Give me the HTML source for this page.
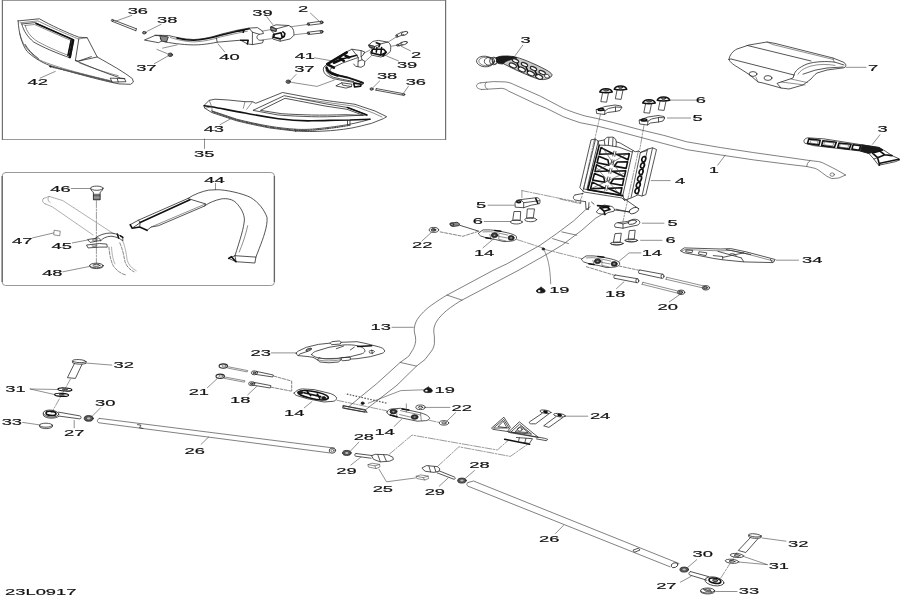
<!DOCTYPE html>
<html><head><meta charset="utf-8"><title>23L0917</title>
<style>
html,body{margin:0;padding:0;background:#fff;}
body{width:900px;height:597px;overflow:hidden;font-family:"Liberation Sans",sans-serif;}
svg{display:block;}
path,ellipse,line,rect{fill:none;stroke:#2a2a2a;stroke-width:.8;stroke-linejoin:round;stroke-linecap:round}
.l{stroke:#444;stroke-width:.6}
.t{stroke:#4a4a4a;stroke-width:.7}
.b{stroke:#666;stroke-width:.9}
.k{stroke:#111;stroke-width:1.6}
.kk{stroke:#111;stroke-width:2.6}
.f{fill:#1a1a1a;stroke:#1a1a1a}
.g{fill:#888;stroke:#222}
.w{fill:#fff}
.d{stroke-dasharray:3 1.5;stroke-width:.6;stroke:#333}
.c{stroke-dasharray:7 1.5 1.5 1.5;stroke-width:.55;stroke:#4a4a4a}
.ph{stroke:#666;stroke-width:.55;stroke-dasharray:1.2 .8}
.ld{stroke:#444;stroke-width:.6}
text{font-family:"Liberation Sans",sans-serif;fill:#111;stroke:#111;stroke-width:.16}
</style></head><body>
<svg width="900" height="597" viewBox="0 0 900 597">
<defs><filter id="id" x="0" y="0" width="100%" height="100%" filterUnits="userSpaceOnUse"><feOffset dx="0" dy="0"/></filter></defs>
<rect x="0" y="0" width="900" height="597" style="fill:#fff;stroke:none"/>
<g filter="url(#id)">
<path d="M2.5 0.5 H445.5 M2.5 139.5 H445.5" style="stroke:#999;stroke-width:1;stroke-linecap:butt"/>
<path d="M2.4 0 V140 M445.6 0 V140" style="stroke:#707070;stroke-width:1.2;stroke-linecap:butt"/>
<rect x="2.2" y="172.5" width="272.2" height="113" rx="3.5" ry="3.5" style="stroke:#999;stroke-width:1"/>
<path d="M2.2 176 V282 M274.4 176 V282" style="stroke:#666;stroke-width:1.3;stroke-linecap:butt"/>
<path class="ld" d="M204.5 139 V148.5"/>
<path class="n" d="M 18.1 20.9 L 39.4 18.8 C 50.3 25.1 67.0 32.7 78.8 37.2 L 87.2 37.7 L 97.2 57.0 C 110.6 64.5 124.0 72.0 132.4 78.7 L 133.4 82.1 L 130.7 84.3 L 119.0 83.9 C 100.6 80.4 70.4 72.0 50.3 65.7 C 40.2 62.0 31.8 56.1 26.8 51.1 C 21.8 43.9 18.8 33.5 18.1 20.9 Z" />
<path class="l" d="M 20.1 22.8 L 37.9 20.9 C 50.3 27.1 67.0 34.3 78.4 39.0" />
<path class="n" d="M 21.8 24.0 L 35.2 22.6 C 48.6 28.5 63.7 35.5 73.7 39.5 L 70.4 58.0 C 57.0 53.3 41.9 46.9 33.5 41.9 C 27.7 36.9 23.5 31.0 21.8 24.0 Z" />
<path class="l" d="M 25.1 25.5 L 34.4 24.5 C 46.9 29.8 62.0 36.9 71.1 40.5 L 68.0 55.3 C 57.0 51.1 43.6 45.2 35.5 40.2 C 30.2 36.0 26.8 31.8 25.1 25.5 Z" />
<path class="kk" d="M 73.1 40.2 L 69.7 57.0" />
<path class="k" d="M 71.1 40.5 L 68.0 55.3" />
<path class="k" d="M 36.0 23.5 C 48.6 28.8 63.7 35.8 72.4 39.5" />
<path class="n" d="M 78.8 38.9 L 75.4 60.6 L 78.8 61.0 L 97.2 57.0 M 78.8 61.0 L 91.3 56.6" />
<path class="l" d="M 78.8 38.9 L 87.2 37.7" />
<path class="n" d="M 75.4 60.6 C 90.5 67.0 107.3 73.7 120.7 78.1 L 124.9 78.7" />
<path class="l" d="M 79.6 63.0 C 93.9 68.7 107.3 73.0 118.2 75.7" />
<path class="l" d="M 19.8 33.5 C 21.8 43.6 27.7 51.1 37.7 59.0 C 50.3 65.7 83.8 74.5 110.6 80.7" />
<path class="n" d="M 25.1 44.4 C 27.7 49.4 32.7 54.4 38.5 58.6" />
<path class="k" d="M 50.3 66.5 L 111.5 81.6" style="stroke-dasharray:1.4 1.2;stroke-width:1.5;stroke:#555"/>
<path class="n" d="M 110.6 78.1 L 124.4 78.7 L 126.0 81.7 L 112.6 82.1 Z M 117.3 78.7 L 118.2 82.1" />
<ellipse class="f" cx="50.3" cy="66.5" rx="0.7" ry="0.5" />
<text x="27.5" y="84.5" font-size="8.30" textLength="20.4" lengthAdjust="spacingAndGlyphs">42</text>
<path class="ld" d="M 40.2 78.1 L 55.3 71.4" />
<path class="n" d="M 113.0 19.8 L 136.4 28.8 M 112.3 21.4 L 135.8 30.7 M 136.4 28.8 L 135.8 30.7" />
<ellipse class="n" cx="112.3" cy="20.4" rx="1.0" ry="1.0" />
<text x="127.7" y="13.8" font-size="8.30" textLength="20.4" lengthAdjust="spacingAndGlyphs">36</text>
<path class="ld" d="M 131.7 15.4 L 115.0 21.4" />
<ellipse class="g" cx="144.3" cy="32.7" rx="1.8" ry="1.3" />
<text x="157.0" y="22.5" font-size="8.30" textLength="20.4" lengthAdjust="spacingAndGlyphs">38</text>
<path class="ld" d="M 161.1 24.3 L 146.8 31.5" />
<ellipse class="g" cx="170.3" cy="54.8" rx="2.3" ry="1.8" />
<ellipse class="w" cx="170.3" cy="54.8" rx="0.8" ry="0.7" />
<text x="136.2" y="71.2" font-size="8.30" textLength="20.4" lengthAdjust="spacingAndGlyphs">37</text>
<path class="ld" d="M 154.4 63.7 L 168.3 55.8" />
<path class="l" d="M 156.9 49.4 L 167.3 53.6 M 162.7 48.1 L 177.0 44.9" />
<path class="n" d="M 144.8 39.9 L 154.9 35.5 L 161.9 35.8 L 160.2 38.9 L 163.9 39.9 L 158.9 42.5 Z" />
<path class="g" d="M 160.2 35.8 L 168.3 36.9 L 166.6 41.9 L 161.9 41.2 Z" />
<path class="n" d="M 154.9 35.2 L 168.6 35.5 C 175.3 37.2 183.7 39.2 193.7 39.5 C 203.8 39.2 213.9 36.5 220.6 34.3 L 237.3 30.2 L 249.1 28.1 L 257.4 27.6 L 262.5 31.0 L 263.5 33.5 L 259.4 34.3 C 256.1 35.5 256.1 38.9 259.4 40.2 L 263.5 40.2 L 262.5 42.9 L 252.4 44.6 L 247.4 43.9 L 240.7 40.2 L 217.2 42.2 C 207.2 44.2 200.4 44.9 193.7 44.9 C 187.0 44.9 175.3 43.9 164.9 41.9" />
<path class="k" d="M 177.0 37.9 C 183.7 39.9 190.4 40.2 193.7 40.2 C 203.8 39.9 213.9 37.2 220.6 35.2 L 237.3 31.2 L 249.1 28.8" />
<path class="l" d="M 170.3 37.5 C 180.3 40.9 190.4 41.9 193.7 41.9 C 203.8 41.5 213.9 39.2 220.6 36.9 L 237.3 33.2 L 247.4 31.2" />
<path class="n" d="M 249.1 28.1 L 252.4 32.2 L 252.4 44.6 M 252.4 32.2 L 259.4 34.3 M 216.4 37.9 L 217.2 42.2" />
<path class="k" d="M 240.7 40.2 L 248.2 40.2 L 247.4 43.9" />
<path class="k" d="M 237.3 31.2 L 244.0 30.2 L 243.2 32.2" />
<text x="219.3" y="60.0" font-size="8.30" textLength="20.4" lengthAdjust="spacingAndGlyphs">40</text>
<path class="ld" d="M 224.7 51.9 L 218.0 43.9" />
<text x="252.3" y="15.6" font-size="8.30" textLength="20.4" lengthAdjust="spacingAndGlyphs">39</text>
<path class="ld" d="M 266.8 16.8 L 272.7 24.5" />
<path class="n" d="M 271.0 26.8 L 276.0 24.8 L 288.6 25.5 C 292.8 26.8 294.0 30.2 294.0 35.2 L 290.3 38.9 L 280.2 41.2 L 272.8 39.0 L 272.2 36.0 L 274.5 34.2 L 271.2 30.5 Z" />
<path class="n" d="M 271.0 26.8 L 276.5 28.8 L 288.6 25.5 M 276.5 28.8 L 276.2 31.5 L 271.2 30.5" />
<path class="g" d="M 271.2 27.1 L 276.2 29.0 L 275.9 31.3 L 271.5 30.3 Z" />
<path class="k" d="M 273.5 34.5 L 281.1 32.7 L 281.9 36.2 L 284.2 36.5 L 284.9 33.5 L 282.9 31.8 M 274.5 34.2 L 273.5 37.2 L 280.2 38.9 L 284.2 36.5" />
<path class="n" d="M 280.2 41.2 L 280.2 38.9" />
<path class="l" d="M 262.1 31.2 L 271.0 29.5 M 262.6 39.9 L 272.5 38.5 M 290.3 26.8 L 307.4 24.5 M 294.0 34.8 L 307.4 33.2" />
<path class="n" d="M 307.9 23.1 L 321.8 21.1 C 323.5 21.1 323.5 23.5 322.1 23.6 L 308.4 25.3 C 306.7 25.3 306.7 23.3 307.9 23.1 Z" />
<path class="n" d="M 307.9 32.2 L 321.8 30.5 C 323.5 30.5 323.5 32.8 322.1 33.0 L 308.4 34.5 C 306.7 34.5 306.7 32.3 307.9 32.2 Z" />
<ellipse class="g" cx="321.5" cy="22.3" rx="1.3" ry="1.2" />
<ellipse class="g" cx="321.5" cy="31.7" rx="1.3" ry="1.2" />
<ellipse class="g" cx="308.7" cy="24.3" rx="0.8" ry="0.8" />
<ellipse class="g" cx="308.7" cy="33.3" rx="0.8" ry="0.8" />
<text x="298.1" y="11.7" font-size="8.30" textLength="10.2" lengthAdjust="spacingAndGlyphs">2</text>
<path class="ld" d="M 310.4 13.1 L 318.8 20.8" />
<text x="294.7" y="58.6" font-size="8.30" textLength="20.4" lengthAdjust="spacingAndGlyphs">41</text>
<path class="ld" d="M 314.6 57.8 L 330.5 60.6" />
<path class="n" d="M 324.2 66.7 L 327.9 63.5 L 338.0 57.0 L 347.3 51.5 L 351.9 49.2 L 361.1 50.6 L 364.8 52.0 L 362.9 55.3 L 361.1 56.6 L 362.0 59.8 L 364.8 61.2 L 364.4 65.4 L 361.1 67.3 L 357.9 66.7 L 358.3 57.5 L 355.6 58.4 L 342.6 63.0 L 330.7 68.6 C 329.7 69.5 330.2 70.9 331.1 71.8 L 337.1 74.6 L 347.3 76.9 L 357.4 80.2 L 363.5 82.4 L 362.9 84.4 L 353.7 82.4 L 342.6 80.5 L 333.4 78.7 L 327.0 75.6 C 324.7 74.1 323.5 71.8 323.3 69.5 Z" />
<path class="kk" d="M 327.2 64.1 L 346.8 52.3" />
<path class="k" d="M 342.6 58.8 L 356.9 55.3" style="stroke-dasharray:1.3 1"/>
<path class="kk" d="M 327.9 64.7 L 333.9 67.6 M 339.7 58.2 L 343.8 60.8 M 333.9 62.7 L 342.2 59.0 M 345.4 55.7 L 349.1 57.5" />
<path class="kk" d="M 326.5 67.6 C 327.0 70.4 328.8 72.1 331.1 73.2 L 337.6 75.4" />
<path class="k" d="M 337.6 75.4 L 347.3 77.6 L 356.9 80.7 L 362.9 83.1" />
<path class="n" d="M 326.1 70.4 C 327.0 73.2 329.7 75.5 333.4 77.3 L 342.6 79.4 L 353.7 81.5" />
<path class="n" d="M 351.9 49.2 L 358.3 57.5 M 361.1 50.6 L 361.1 56.6 M 362.0 59.8 L 358.3 61.2 M 353.7 64.0 L 355.6 66.3 L 357.9 66.7" />
<path class="n" d="M 336.2 85.7 L 341.7 82.8 L 351.9 84.2 L 351.5 86.6 L 346.3 88.0 Z M 341.7 82.8 L 342.6 85.1 L 351.5 86.6" />
<path class="k" d="M 353.7 83.3 L 361.1 84.2 L 360.7 86.1 L 354.6 87.0 Z" />
<text x="294.2" y="72.4" font-size="8.30" textLength="20.4" lengthAdjust="spacingAndGlyphs">37</text>
<path class="ld" d="M 296.1 74.5 L 290.3 80.4" />
<ellipse class="g" cx="288.3" cy="81.7" rx="2.3" ry="1.7" />
<ellipse class="w" cx="288.3" cy="81.7" rx="0.8" ry="0.7" />
<path class="l" d="M 291.6 82.4 L 317.1 86.4 L 334.2 80.1" />
<path class="n" d="M 368.9 44.8 L 372.9 41.4 L 378.3 40.4 L 387.7 42.1 C 390.3 43.0 391.4 46.1 390.3 51.5 L 386.3 55.1 L 380.9 57.0 L 371.6 55.1 L 370.2 52.2 L 372.4 49.5 L 369.6 47.1 Z" />
<path class="n" d="M 368.9 44.8 L 374.9 46.5 L 379.9 44.1 L 387.7 42.1 M 374.9 46.5 L 374.2 48.7 L 369.6 47.1" />
<path class="g" d="M 369.2 45.1 L 374.8 46.7 L 374.2 48.4 L 369.8 46.9 Z" />
<path class="k" d="M 376.3 42.8 L 379.9 44.1 L 378.9 46.8 M 372.9 49.2 L 383.6 49.2 L 386.3 52.2 L 383.0 55.9 M 372.4 49.5 L 371.6 53.0 L 380.9 55.1 L 386.3 52.2 M 376.9 47.5 L 376.3 52.2 M 381.6 47.5 L 380.9 53.5" />
<path class="l" d="M 363.5 53.5 L 370.0 50.0 M 364.3 62.3 L 371.6 55.6 M 387.9 42.2 L 396.8 36.6 M 391.0 46.3 L 396.8 45.2" />
<path class="n" d="M 396.0 35.0 L 402.4 31.8 M 397.0 37.2 L 403.5 34.5" />
<ellipse class="n" cx="404.5" cy="33.4" rx="3.4" ry="1.7" transform="rotate(-22 404.5 33.4)" />
<ellipse class="n" cx="396.8" cy="36.1" rx="0.8" ry="1.1" transform="rotate(-22 396.8 36.1)" />
<ellipse class="g" cx="397.8" cy="45.2" rx="1.3" ry="0.9" />
<path class="n" d="M 398.6 44.1 L 401.9 42.2 M 399.2 46.0 L 402.4 44.7" />
<ellipse class="n" cx="404.0" cy="43.2" rx="3.5" ry="1.5" transform="rotate(-18 404.0 43.2)" />
<text x="411.0" y="58.3" font-size="8.30" textLength="10.2" lengthAdjust="spacingAndGlyphs">2</text>
<path class="ld" d="M 410.4 50.8 L 401.3 46.3" />
<text x="396.9" y="68.4" font-size="8.30" textLength="20.4" lengthAdjust="spacingAndGlyphs">39</text>
<path class="ld" d="M 398.4 60.9 L 387.0 56.2" />
<text x="376.9" y="79.1" font-size="8.30" textLength="20.4" lengthAdjust="spacingAndGlyphs">38</text>
<path class="ld" d="M 379.6 81.0 L 372.9 87.7" />
<ellipse class="g" cx="371.6" cy="89.0" rx="1.6" ry="1.2" />
<text x="405.7" y="84.7" font-size="8.30" textLength="20.4" lengthAdjust="spacingAndGlyphs">36</text>
<path class="ld" d="M 408.4 86.3 L 403.7 93.0" />
<path class="n" d="M 376.3 88.6 L 402.1 93.4 M 375.9 90.2 L 401.7 95.0 M 376.3 88.6 L 375.9 90.2" />
<ellipse class="g" cx="403.5" cy="94.5" rx="1.3" ry="1.1" />
<path class="n" d="M 204.2 105.3 L 209.2 100.3 L 215.0 99.2 L 228.3 100.0 L 245.0 101.7 L 252.5 101.7 L 255.8 103.3 L 282.5 92.5 L 311.7 98.0 L 325.0 100.3 C 336.7 102.0 348.3 103.3 355.0 104.3 L 375.0 111.0 L 386.7 116.7 L 383.3 118.7 L 371.7 123.3 C 361.7 125.8 355.0 127.5 350.0 128.3 C 341.7 129.7 331.7 130.7 325.0 131.0 C 315.0 131.7 303.3 131.7 295.0 131.0 C 286.7 130.0 278.3 129.2 270.0 128.0 C 258.3 125.8 246.7 123.3 236.7 120.8 L 211.7 112.5 L 205.0 108.3 Z" />
<path class="n" d="M 211.7 110.8 L 236.7 119.2 C 246.7 121.7 258.3 124.3 270.0 126.3 C 278.3 127.7 288.3 128.7 295.0 129.2 C 303.3 129.7 311.7 129.3 316.7 128.7 C 328.3 127.7 341.7 125.7 350.0 124.2 C 358.3 122.5 365.0 120.8 370.0 119.2" />
<path class="l" d="M 212.3 111.7 L 236.7 120.0 C 246.7 122.5 258.3 125.0 270.0 127.2 C 278.3 128.3 288.3 129.7 295.0 130.2 C 303.3 130.7 311.7 130.3 316.7 129.7 C 328.3 128.7 341.7 126.7 350.0 125.2" style="stroke-dasharray:1.2 1.2;stroke-width:1.2"/>
<path class="k" d="M 204.2 105.8 L 211.7 106.7 C 225.0 109.2 235.0 111.3 245.0 113.0 C 258.3 115.7 268.3 117.3 278.3 118.7 C 290.0 120.3 301.7 121.0 311.7 120.8 C 325.0 120.7 336.7 120.0 350.0 120.0 L 370.0 119.2" />
<path class="n" d="M 253.3 110.2 L 284.2 95.7 L 325.0 103.7 L 347.5 107.5 L 367.0 115.0 L 345.0 116.0 C 333.3 116.7 321.7 117.0 311.7 116.7 C 301.7 116.3 290.0 116.0 278.3 115.0 Z" />
<path class="n" d="M 260.8 110.2 L 285.0 98.3 L 325.0 106.0 L 347.0 109.3 L 363.3 115.3 L 345.0 114.7 C 333.3 115.0 321.7 115.3 311.7 115.0 C 301.7 114.7 290.0 114.3 281.7 113.7 Z" />
<path class="l" d="M 252.5 101.7 L 246.7 109.3 M 245.0 101.7 L 243.3 108.3 M 209.2 100.3 L 211.7 106.7 M 205.0 108.3 L 211.7 106.7 L 212.3 111.7" />
<path class="l" d="M 300.0 98.7 L 355.0 106.3 L 373.3 113.0 L 382.0 117.0" />
<path class="k" d="M 347.5 107.5 L 367.0 115.0" />
<path class="n" d="M 347.5 120.3 L 347.5 124.7 M 350.0 120.3 L 350.0 124.2 M 295.0 129.2 L 295.8 131.7" />
<text x="203.7" y="132.3" font-size="8.30" textLength="20.4" lengthAdjust="spacingAndGlyphs">43</text>
<path class="ld" d="M 220.0 124.7 L 230.8 118.7" />
<text x="194.0" y="156.8" font-size="8.30" textLength="20.4" lengthAdjust="spacingAndGlyphs">35</text>
<text x="50.3" y="191.9" font-size="8.30" textLength="20.4" lengthAdjust="spacingAndGlyphs">46</text>
<path class="ld" d="M 71.2 188.5 L 90.1 188.5" />
<ellipse class="n" cx="96.8" cy="188.2" rx="6.3" ry="2.1" />
<path class="n" d="M 90.7 188.9 C 91.3 191.0 92.6 191.8 93.4 192.2 L 93.4 199.8 L 100.1 199.8 L 100.1 192.2 C 101.0 191.8 102.2 191.0 102.9 188.9" />
<path class="n" d="M 93.4 194.3 L 100.1 194.3 M 93.4 195.6 L 100.1 195.6 M 93.4 196.8 L 100.1 196.8 M 93.4 198.1 L 100.1 198.1 M 93.4 199.3 L 100.1 199.3" />
<path class="c" d="M 96.4 200.6 L 96.4 263.4" />
<path class="ph" d="M 43.6 198.5 C 41.9 199.8 42.3 202.7 45.3 203.9 M 43.6 198.5 L 49.2 196.4 L 62.8 200.6 L 114.2 234.1 M 45.3 203.9 L 52.4 206.9 L 93.2 235.1" />
<path class="ph" d="M 49.2 196.4 C 47.3 198.1 47.8 201.0 50.3 202.7" />
<path class="ph" d="M 122.6 240.4 C 125.7 248.8 126.5 255.0 127.0 259.2 C 128.2 264.5 132.0 268.6 136.2 270.7" />
<path class="d" d="M 119.8 242.9 C 123.2 250.8 124.0 257.1 124.9 261.3 C 126.5 266.5 129.9 269.7 134.1 271.8" />
<path class="d" d="M 108.9 247.1 C 109.4 252.9 110.2 259.2 113.1 265.5 C 116.3 270.7 121.5 273.9 125.7 274.9" />
<path class="ph" d="M 111.5 247.1 C 111.9 252.9 112.7 259.2 115.2 264.5" />
<path class="n" d="M 95.3 238.3 C 98.5 235.1 104.7 233.0 111.0 233.0 C 117.3 233.7 120.5 235.8 122.8 237.4 L 122.8 240.8 C 119.4 238.3 116.3 236.6 111.0 236.2 C 105.8 236.6 102.7 238.3 100.6 240.8" />
<path class="k" d="M 117.3 234.1 L 118.6 237.9 M 120.5 235.8 L 122.8 237.4" />
<path class="n" d="M 88.0 239.5 L 98.5 237.9 L 101.0 240.4 L 90.5 242.3 Z" />
<path class="n" d="M 86.9 245.0 L 99.5 243.5 L 106.8 244.1 L 107.3 247.1 L 100.1 247.1 L 88.4 247.9 Z" />
<ellipse class="l" cx="94.7" cy="240.0" rx="2.5" ry="0.8" />
<ellipse class="l" cx="94.3" cy="245.8" rx="2.5" ry="0.8" />
<text x="51.6" y="248.9" font-size="8.30" textLength="20.4" lengthAdjust="spacingAndGlyphs">45</text>
<path class="ld" d="M 72.3 242.9 L 87.6 240.0" />
<text x="12.0" y="243.5" font-size="8.30" textLength="20.4" lengthAdjust="spacingAndGlyphs">47</text>
<path class="ld" d="M 32.5 237.9 L 53.4 233.0" />
<path class="l" d="M 54.5 230.3 L 60.3 231.2 L 59.7 235.8 L 54.1 234.9 Z" />
<text x="42.2" y="276.1" font-size="8.30" textLength="20.4" lengthAdjust="spacingAndGlyphs">48</text>
<path class="ld" d="M 62.8 271.8 L 89.2 266.5" />
<ellipse class="n" cx="96.4" cy="265.5" rx="6.7" ry="2.3" />
<ellipse class="n" cx="96.4" cy="265.3" rx="3.6" ry="1.0" />
<path class="n" d="M 89.7 265.5 L 89.7 266.5 C 91.3 269.3 101.4 269.3 103.1 266.5 L 103.1 265.5" />
<text x="204.3" y="183.0" font-size="8.30" textLength="20.4" lengthAdjust="spacingAndGlyphs">44</text>
<path class="ld" d="M 215.5 183.4 L 215.5 189.7" />
<path class="n" d="M 130.2 224.7 L 138.6 220.1 L 187.8 198.5 C 194.1 194.3 202.5 191.2 208.8 190.1 L 217.2 189.7 C 225.5 189.7 242.3 193.3 250.7 197.5 C 259.1 202.7 264.3 210.0 267.0 217.3 C 267.9 225.7 263.2 238.3 259.1 248.8 L 255.9 257.1 L 254.9 263.0 L 236.0 261.7 L 228.7 258.4 L 235.0 255.7 L 255.9 257.1" />
<path class="n" d="M 235.0 255.7 L 236.0 261.7" />
<path class="n" d="M 147.0 230.3 L 151.2 227.0 L 158.5 225.7 L 204.6 206.0 C 208.8 202.7 215.1 200.2 221.4 198.9 C 227.6 198.1 232.9 199.5 236.0 202.7 C 241.2 207.9 244.4 214.2 244.4 219.9 C 244.0 227.8 239.8 240.4 235.0 255.7" />
<path class="k" d="M 130.2 224.7 L 132.1 228.2 L 139.7 227.0 L 147.0 230.3" />
<path class="n" d="M 138.6 220.1 L 140.1 222.8 L 132.1 228.2 M 140.1 222.8 L 139.7 227.0" />
<path class="n" d="M 187.8 198.5 L 205.6 203.9 L 204.6 206.0" />
<path class="k" d="M 140.1 222.4 L 189.9 199.8" />
<path class="l" d="M 151.2 227.0 L 205.6 203.9" />
<path class="l" d="M 247.7 225.7 C 245.4 236.2 242.3 244.6 239.2 252.1" />
<path class="k" d="M 228.7 258.4 L 231.4 256.7 L 236.0 261.7" />
<text x="520.5" y="42.6" font-size="8.30" textLength="10.2" lengthAdjust="spacingAndGlyphs">3</text>
<path class="ld" d="M 522.8 45.1 L 515.3 55.5" />
<ellipse class="n" cx="485.0" cy="61.5" rx="8.5" ry="5.3" transform="rotate(5 485.0 61.5)" />
<ellipse class="l" cx="485.8" cy="61.5" rx="7.0" ry="4.2" transform="rotate(5 485.8 61.5)" />
<ellipse class="n" cx="489.5" cy="61.3" rx="5.2" ry="4.0" />
<ellipse class="n" cx="493.2" cy="61.0" rx="3.6" ry="3.8" />
<ellipse class="n" cx="495.0" cy="61.0" rx="2.8" ry="3.4" />
<path class="n" d="M 513.0 56.5 C 517.0 57.2 522.0 59.0 526.0 60.5 C 532.0 63.0 540.0 66.5 546.0 69.8 C 549.0 71.5 551.5 73.2 552.0 74.6 C 552.2 76.2 550.5 78.0 547.0 79.0 C 544.5 79.6 542.0 79.8 540.0 79.5 C 537.0 78.8 533.0 77.2 530.0 76.0 C 525.0 74.0 520.0 71.8 515.0 69.5 C 511.0 67.5 507.0 65.5 504.0 64.0" style="fill:#ccc"/>
<path class="f" d="M 496.5 57.5 C 499.0 56.2 503.0 55.8 508.0 56.0 L 513.0 56.5 L 517.0 58.0 C 513.0 59.0 509.0 60.0 506.0 61.5 L 503.0 64.0 L 499.0 63.6 C 497.0 63.0 495.8 61.0 496.5 57.5 Z" />
<ellipse class="n" cx="512.8" cy="65.5" rx="3.8" ry="2.1" transform="rotate(24 512.8 65.5)" style="fill:#fff;stroke-width:1.2"/>
<ellipse class="n" cx="521.8" cy="69.5" rx="3.8" ry="2.1" transform="rotate(24 521.8 69.5)" style="fill:#fff;stroke-width:1.2"/>
<ellipse class="n" cx="530.8" cy="73.5" rx="3.8" ry="2.1" transform="rotate(24 530.8 73.5)" style="fill:#fff;stroke-width:1.2"/>
<ellipse class="n" cx="539.0" cy="76.8" rx="3.8" ry="2.1" transform="rotate(24 539.0 76.8)" style="fill:#fff;stroke-width:1.2"/>
<ellipse class="n" cx="515.5" cy="60.8" rx="3.4" ry="1.6" transform="rotate(24 515.5 60.8)" style="fill:#fff;stroke-width:1.2"/>
<ellipse class="n" cx="524.5" cy="64.6" rx="3.4" ry="1.6" transform="rotate(24 524.5 64.6)" style="fill:#fff;stroke-width:1.2"/>
<ellipse class="n" cx="533.5" cy="68.6" rx="3.4" ry="1.6" transform="rotate(24 533.5 68.6)" style="fill:#fff;stroke-width:1.2"/>
<ellipse class="n" cx="542.2" cy="72.6" rx="3.4" ry="1.6" transform="rotate(24 542.2 72.6)" style="fill:#fff;stroke-width:1.2"/>
<ellipse class="n" cx="547.0" cy="76.2" rx="2.6" ry="1.8" transform="rotate(24 547.0 76.2)" style="fill:#fff"/>
<path class="k" d="M 517.2 63.2 L 518.8 67.2 M 526.2 67.2 L 527.8 71.2 M 535.2 71.2 L 536.8 75.0" />
<path class="t" d="M 480.9 82.8 L 493.5 81.6 L 505.2 81.9 C 509.0 82.3 511.5 83.3 513.6 84.4 L 540.4 96.2 L 563.5 108.4 C 572.0 112.0 580.0 114.5 585.2 116.0 L 597.0 118.5 L 613.7 122.7 L 638.8 129.4 L 663.9 135.4 L 686.7 141.8 L 720.2 147.5 L 753.7 152.6 L 787.2 157.3 L 810.1 160.6 L 818.8 161.6 C 821.0 162.0 823.5 163.0 825.5 164.2 L 836.2 169.6 L 845.6 175.0" />
<path class="t" d="M 481.8 89.5 L 501.9 88.3 C 505.0 88.8 507.0 89.9 508.6 91.1 L 535.3 103.7 L 546.7 108.4 L 563.5 116.8 C 569.0 119.0 575.0 121.0 580.2 122.7 L 597.0 126.0 L 613.7 130.2 L 638.8 136.9 L 663.9 143.6 L 686.7 149.6 L 720.2 154.9 L 753.7 159.9 L 787.2 164.2 L 806.8 166.5 L 814.8 168.3 C 817.0 169.0 819.5 170.8 821.5 172.3 L 826.9 176.3 L 831.6 178.6 L 838.9 178.0 L 845.6 175.0" />
<path class="t" d="M 480.9 82.8 C 475.5 83.0 474.0 88.5 481.8 89.5 M 486.5 82.2 C 484.2 84.0 484.5 87.5 487.5 89.2" />
<path class="t" d="M 810.1 160.6 C 807.5 162.5 806.8 164.5 806.8 166.5" />
<ellipse class="t" cx="832.2" cy="174.6" rx="2.2" ry="1.7" />
<text x="708.8" y="173.4" font-size="8.30" textLength="10.2" lengthAdjust="spacingAndGlyphs">1</text>
<path class="ld" d="M 717.7 165.2 L 725.2 155.2" />
<path class="n" d="M 729.0 59.4 C 729.4 55.0 733.0 51.0 737.0 49.0 L 749.0 45.0 L 767.0 42.0 L 775.0 43.4 L 833.0 58.0 L 843.0 62.0 C 846.0 63.4 847.0 66.0 844.0 67.8 L 827.0 70.0 L 817.0 73.0 C 814.0 75.0 812.6 77.4 811.0 79.0 L 803.0 85.0 L 789.0 89.0 L 781.0 88.0 L 763.0 83.0 L 758.0 82.0 L 750.0 75.0 L 739.0 68.0 C 734.0 65.0 730.0 62.6 729.0 59.4 Z" />
<path class="n" d="M 731.0 59.0 L 794.0 75.0 M 747.0 45.4 L 811.0 61.0" />
<path class="n" d="M 794.0 75.0 C 794.6 71.0 799.0 67.4 807.0 64.0 C 815.0 61.4 827.0 61.0 835.0 62.2 L 844.0 65.0" />
<path class="l" d="M 798.0 74.2 C 800.0 70.6 805.0 67.8 811.0 66.0 C 819.0 64.0 827.0 64.0 835.0 65.4" />
<path class="n" d="M 794.0 75.0 L 793.0 78.0 L 781.0 82.0 L 777.0 83.4 L 781.0 88.0 M 803.0 74.2 L 815.0 70.2 L 827.0 68.0 L 843.0 67.0" />
<path class="l" d="M 781.0 82.0 L 805.0 85.0 M 791.0 79.0 L 807.4 82.6 M 833.0 58.0 L 834.2 62.2 M 767.0 42.0 L 773.0 44.6 L 833.0 59.4" />
<ellipse class="n" cx="753.0" cy="74.0" rx="4.0" ry="2.4" />
<ellipse class="n" cx="768.0" cy="78.0" rx="4.0" ry="2.4" />
<path class="l" d="M 758.0 82.0 L 756.0 77.4 M 731.0 59.0 L 729.0 59.4" />
<text x="867.9" y="71.1" font-size="8.30" textLength="10.2" lengthAdjust="spacingAndGlyphs">7</text>
<path class="ld" d="M 845.9 67.3 L 866.1 67.3" />
<text x="877.5" y="132.1" font-size="8.30" textLength="10.2" lengthAdjust="spacingAndGlyphs">3</text>
<path class="ld" d="M 879.9 134.8 L 872.5 144.3" />
<path class="n" d="M 807.5 137.9 C 804.1 138.4 803.1 141.1 804.8 143.2 L 813.5 145.6 L 860.4 151.0 L 868.5 153.1 L 873.9 159.0 L 877.2 163.6 L 879.2 165.2 L 895.3 161.7 L 900.1 159.8 L 899.3 158.9 L 892.0 155.6 L 885.9 151.5 L 879.2 147.5 L 861.8 144.8 L 824.2 138.9 Z" />
<path class="f" d="M 861.8 144.8 L 879.2 147.5 L 883.0 150.2 L 868.5 153.4 L 860.2 151.0 Z" />
<path class="k" d="M 808.8 138.9 L 820.2 140.3 L 818.9 145.1 L 807.5 143.5 Z M 822.9 140.7 L 836.3 142.3 L 834.4 147.3 L 821.6 145.6 Z M 839.0 143.0 L 851.1 144.3 L 849.2 149.1 L 837.7 147.5 Z M 853.1 144.7 L 860.7 145.6 L 859.1 150.2 L 851.9 149.1 Z" />
<path class="l" d="M 811.1 140.3 L 818.2 141.1 L 817.3 144.0 L 810.3 143.0 Z M 824.9 141.9 L 833.9 143.0 L 832.8 145.9 L 824.0 144.8 Z M 840.6 144.0 L 848.9 145.1 L 847.7 148.1 L 839.8 147.0 Z" />
<path class="k" d="M 872.5 153.1 L 879.9 151.0 L 884.8 154.8 L 877.6 157.7 Z M 879.9 151.0 L 881.9 149.7 M 884.8 154.8 L 892.0 155.6 M 877.6 157.7 L 879.2 163.6" />
<path class="k" d="M 879.2 165.2 L 880.0 163.3 L 898.8 159.3" />
<path class="n" d="M 873.9 159.0 L 877.6 157.7" />
<path class="k" d="M 599.8 92.0 C 600.5 89.5 603.0 88.8 606.0 88.8 C 609.0 88.8 611.5 89.5 612.2 92.0 C 609.0 92.8 603.0 92.8 599.8 92.0 Z" />
<path class="n" d="M 602.5 93.2 L 600.8 101.6 L 606.6 102.2 L 608.4 93.2" />
<ellipse class="g" cx="606.0" cy="90.4" rx="2.2" ry="0.8" />
<path class="k" d="M 614.3 89.2 C 615.0 86.7 617.5 86.0 620.5 86.0 C 623.5 86.0 626.0 86.7 626.7 89.2 C 623.5 90.0 617.5 90.0 614.3 89.2 Z" />
<path class="n" d="M 617.0 90.4 L 615.3 98.8 L 621.1 99.4 L 622.9 90.4" />
<ellipse class="g" cx="620.5" cy="87.6" rx="2.2" ry="0.8" />
<path class="k" d="M 642.8 103.0 C 643.5 100.5 646.0 99.8 649.0 99.8 C 652.0 99.8 654.5 100.5 655.2 103.0 C 652.0 103.8 646.0 103.8 642.8 103.0 Z" />
<path class="n" d="M 645.5 104.2 L 643.8 112.6 L 649.6 113.2 L 651.4 104.2" />
<ellipse class="g" cx="649.0" cy="101.4" rx="2.2" ry="0.8" />
<path class="k" d="M 657.3 100.2 C 658.0 97.7 660.5 97.0 663.5 97.0 C 666.5 97.0 669.0 97.7 669.7 100.2 C 666.5 101.0 660.5 101.0 657.3 100.2 Z" />
<path class="n" d="M 660.0 101.4 L 658.3 109.8 L 664.1 110.4 L 665.9 101.4" />
<ellipse class="g" cx="663.5" cy="98.6" rx="2.2" ry="0.8" />
<path class="n" d="M 596.5 109.5 L 601.0 108.0 L 605.0 106.5 L 615.0 105.0 L 621.0 106.0 L 621.8 107.5 L 620.0 110.5 L 615.5 111.5 L 607.5 112.5 L 604.5 114.5 L 597.0 113.5 Z" />
<path class="n" d="M 596.5 109.5 L 605.0 110.7 L 604.5 114.5 M 605.0 110.7 L 608.5 108.5 L 615.5 107.0 L 621.5 107.3 M 615.5 107.0 L 615.5 111.5" />
<ellipse class="k" cx="601.0" cy="109.5" rx="2.8" ry="1.0" transform="rotate(-5 601.0 109.5)" />
<path class="n" d="M 639.5 120.0 L 644.0 118.5 L 648.0 117.0 L 658.0 115.5 L 664.0 116.5 L 664.8 118.0 L 663.0 121.0 L 658.5 122.0 L 650.5 123.0 L 647.5 125.0 L 640.0 124.0 Z" />
<path class="n" d="M 639.5 120.0 L 648.0 121.2 L 647.5 125.0 M 648.0 121.2 L 651.5 119.0 L 658.5 117.5 L 664.5 117.8 M 658.5 117.5 L 658.5 122.0" />
<ellipse class="k" cx="644.0" cy="120.0" rx="2.8" ry="1.0" transform="rotate(-5 644.0 120.0)" />
<text x="695.7" y="103.1" font-size="8.30" textLength="10.2" lengthAdjust="spacingAndGlyphs">6</text>
<path class="ld" d="M 669.9 100.1 L 695.9 100.1" />
<text x="692.5" y="121.4" font-size="8.30" textLength="10.2" lengthAdjust="spacingAndGlyphs">5</text>
<path class="ld" d="M 667.4 118.0 L 690.6 118.0" />
<text x="674.9" y="184.3" font-size="8.30" textLength="10.2" lengthAdjust="spacingAndGlyphs">4</text>
<path class="ld" d="M 651.2 180.6 L 670.2 180.6" />
<path class="c" d="M 600.4 114.5 L 594.5 140.3" />
<path class="c" d="M 644.0 125.2 L 639.8 149.5" />
<path class="c" d="M 594.2 140.0 L 581.5 198.0" />
<path class="c" d="M 638.4 150.7 L 623.0 221.5" />
<path class="n" d="M 591.5 139.7 L 595.5 139.1 L 598.2 141.1 L 604.2 140.0 L 606.9 137.3 L 613.0 137.1 L 615.6 139.1 L 616.3 141.8 L 620.3 143.1 L 633.1 150.5 L 635.1 151.8 L 639.1 151.0 L 640.4 152.5 L 647.8 149.1 L 652.5 147.8 L 656.5 149.5 L 655.9 152.1 L 645.8 194.7 L 641.8 196.0 L 637.8 194.9 L 631.1 198.0 L 624.4 200.3 L 622.1 198.0 L 584.0 192.0 L 580.1 188.0 Z" />
<path class="n" d="M 583.6 188.8 L 586.8 189.6 L 623.0 196.0 L 624.4 200.3" />
<path class="n" d="M 595.5 139.3 L 583.6 188.8 M 598.2 141.3 L 586.8 189.6 M 598.2 141.3 L 598.9 145.1 L 608.3 145.4 L 619.0 147.2 L 632.4 152.1 L 633.1 150.5 M 632.4 152.1 L 622.7 195.8" />
<path class="n" d="M 640.4 152.5 L 631.1 197.4 M 647.2 150.5 L 637.8 194.9 M 652.5 148.0 L 642.1 195.8 M 647.8 149.1 L 647.2 150.5 L 640.4 152.5" />
<path class="n" d="M 608.9 137.7 L 608.3 145.4 M 613.0 137.7 L 612.6 145.9 M 604.2 140.0 L 604.9 145.1 M 616.3 141.8 L 616.0 146.7" />
<path class="k" d="M 599.2 145.4 L 587.8 189.6 L 622.7 195.6" />
<path class="k" d="M 601.0 147.6 L 613.1 153.8 L 599.3 154.2 Z" />
<path class="k" d="M 629.3 153.8 L 616.4 154.2 L 628.0 159.8 Z" />
<path class="n" d="M 614.0 151.1 L 612.8 156.0" />
<path class="n" d="M 616.0 151.5 L 614.8 156.4" />
<path class="k" d="M 598.7 156.2 L 608.0 160.1 L 608.9 165.1 L 597.1 162.8 Z" />
<path class="k" d="M 627.6 161.9 L 617.4 162.0 L 614.3 166.1 L 626.1 168.4 Z" />
<path class="n" d="M 612.0 159.7 L 610.8 164.5" />
<path class="n" d="M 614.0 160.1 L 612.8 164.9" />
<path class="k" d="M 596.6 164.8 L 608.9 171.0 L 595.0 171.5 Z" />
<path class="k" d="M 625.7 170.8 L 612.4 171.2 L 624.4 176.9 Z" />
<path class="n" d="M 610.0 168.3 L 608.8 173.1" />
<path class="n" d="M 612.0 168.7 L 610.8 173.5" />
<path class="k" d="M 594.5 173.5 L 603.8 177.3 L 604.8 182.2 L 592.7 180.1 Z" />
<path class="k" d="M 623.8 178.9 L 613.5 179.0 L 610.4 183.3 L 622.5 185.4 Z" />
<path class="n" d="M 607.9 176.9 L 606.8 181.7" />
<path class="n" d="M 610.0 177.3 L 608.8 182.1" />
<path class="k" d="M 592.2 182.1 L 604.9 188.1 L 590.6 188.7 Z" />
<path class="k" d="M 621.9 187.8 L 608.4 188.4 L 620.6 193.9 Z" />
<path class="n" d="M 605.9 185.4 L 604.8 190.3" />
<path class="n" d="M 608.0 185.7 L 606.8 190.5" />
<path class="l" d="M 602.2 147.0 L 623.0 177.5" />
<path class="l" d="M 628.5 153.1 L 595.9 171.6" />
<path class="l" d="M 596.9 168.1 L 619.4 194.1" />
<path class="l" d="M 624.1 173.2 L 591.6 188.4" />
<ellipse class="k" cx="643.8" cy="159.2" rx="1.9" ry="2.7" transform="rotate(18 643.8 159.2)" />
<ellipse class="k" cx="642.5" cy="165.5" rx="1.9" ry="2.7" transform="rotate(18 642.5 165.5)" />
<ellipse class="k" cx="641.1" cy="171.9" rx="1.9" ry="2.7" transform="rotate(18 641.1 171.9)" />
<ellipse class="k" cx="639.6" cy="178.6" rx="1.9" ry="2.7" transform="rotate(18 639.6 178.6)" />
<ellipse class="k" cx="638.3" cy="185.0" rx="1.9" ry="2.7" transform="rotate(18 638.3 185.0)" />
<ellipse class="k" cx="637.0" cy="190.9" rx="1.9" ry="2.7" transform="rotate(18 637.0 190.9)" />
<text x="476.0" y="208.1" font-size="8.30" textLength="10.2" lengthAdjust="spacingAndGlyphs">5</text>
<path class="ld" d="M 488.0 205.2 L 514.4 205.2" />
<path class="n" d="M 515.1 202.7 C 515.6 200.2 518.2 199.6 520.7 199.6 L 537.0 197.6 C 539.8 198.1 540.8 200.7 539.5 203.7 L 531.2 205.2 L 523.7 207.7 L 515.6 207.2 Z" />
<path class="n" d="M 520.7 199.6 L 523.7 202.7 L 523.7 207.7 M 523.7 202.7 L 539.5 200.7" />
<ellipse class="k" cx="518.7" cy="201.7" rx="2.0" ry="1.0" />
<path class="k" d="M 535.8 198.6 L 537.8 203.2" />
<text x="472.8" y="224.4" font-size="8.30" textLength="10.2" lengthAdjust="spacingAndGlyphs">6</text>
<path class="ld" d="M 484.2 221.5 L 510.6 221.5" />
<path class="n" d="M 514.4 211.5 L 520.7 211.5 L 520.2 220.3 L 513.1 220.3 Z M 527.7 208.9 L 534.5 208.9 L 533.2 218.2 L 527.0 218.2 Z" />
<ellipse class="n" cx="516.4" cy="222.0" rx="6.0" ry="2.0" />
<ellipse class="n" cx="530.7" cy="219.7" rx="6.0" ry="2.0" />
<path class="c" d="M 521.9 190.6 L 521.9 197.6 M 521.9 190.6 L 581.0 202.7" />
<text x="412.1" y="248.2" font-size="8.30" textLength="20.4" lengthAdjust="spacingAndGlyphs">22</text>
<path class="ld" d="M 421.8 241.1 L 431.2 232.6" />
<ellipse class="n" cx="433.9" cy="229.9" rx="4.7" ry="2.5" />
<ellipse class="g" cx="433.5" cy="229.9" rx="2.3" ry="1.3" />
<ellipse class="w" cx="433.5" cy="229.9" rx="1.0" ry="0.5" />
<path class="g" d="M 450.3 223.2 L 457.0 222.2 L 459.7 223.9 L 458.7 225.7 L 453.0 226.5 L 450.3 224.9 Z" />
<ellipse class="n" cx="452.0" cy="224.5" rx="1.7" ry="1.7" />
<path class="n" d="M 459.5 225.2 L 478.8 231.2" />
<path class="d" d="M 440.2 231.9 L 462.8 236.3 L 478.8 231.2" />
<path class="n" d="M 478.8 232.9 L 483.1 229.9 L 490.5 229.9 L 498.5 230.9 L 507.8 232.9 C 511.8 233.9 514.8 234.9 516.5 236.6 L 516.5 238.6 C 515.3 240.4 512.8 240.9 510.5 241.2 L 503.8 241.6 L 495.8 239.6 L 486.5 237.9 L 480.5 235.9 L 478.8 234.2 Z" />
<path class="l" d="M 483.1 231.9 L 490.5 231.7 L 498.8 233.1 L 507.8 235.1 M 489.8 234.4 L 490.8 238.4 M 498.8 234.4 L 498.8 239.4 L 505.8 240.9 M 498.8 236.4 L 506.8 237.9" />
<path class="k" d="M 494.8 230.5 L 500.8 231.3 M 485.8 237.7 L 490.8 238.5" />
<ellipse class="f" cx="494.5" cy="235.2" rx="3.2" ry="2.3" style="fill:#333"/>
<ellipse class="f" cx="511.1" cy="237.9" rx="3.0" ry="2.3" style="fill:#333"/>
<ellipse class="w" cx="494.5" cy="235.2" rx="1.2" ry="0.8" style="stroke:none;fill:#999"/>
<ellipse class="w" cx="511.1" cy="237.9" rx="1.2" ry="0.8" style="stroke:none;fill:#999"/>
<text x="473.9" y="255.7" font-size="8.30" textLength="20.4" lengthAdjust="spacingAndGlyphs">14</text>
<path class="ld" d="M 483.0 247.8 L 493.9 238.6" />
<path class="c" d="M 516.5 239.4 L 543.8 248.3" />
<ellipse class="f" cx="543.3" cy="249.0" rx="1.3" ry="1.0" />
<path class="c" d="M 545.0 249.5 L 581.9 258.7" />
<path class="ld" d="M 544.2 250.3 C 547.5 257.0 550.1 265.4 550.7 283.8" />
<path class="f" d="M 541.1 287.4 C 543.0 288.5 545.2 289.5 545.2 291.0 C 545.2 292.4 543.2 292.9 540.8 292.9 C 538.4 292.9 536.4 292.4 536.4 291.0 C 536.4 289.5 539.2 288.5 541.1 287.4 Z" />
<ellipse class="w" cx="539.2" cy="291.0" rx="1.3" ry="0.9" style="stroke:none"/>
<text x="549.2" y="292.9" font-size="8.30" textLength="20.4" lengthAdjust="spacingAndGlyphs">19</text>
<path class="n" d="M 581.9 258.9 L 586.2 255.9 L 593.6 255.9 L 601.6 256.9 L 610.9 258.9 C 614.9 259.9 617.9 260.9 619.6 262.6 L 619.6 264.6 C 618.4 266.4 615.9 266.9 613.6 267.2 L 606.9 267.6 L 598.9 265.6 L 589.6 263.9 L 583.6 261.9 L 581.9 260.2 Z" />
<path class="l" d="M 586.2 257.9 L 593.6 257.7 L 601.9 259.1 L 610.9 261.1 M 592.9 260.4 L 593.9 264.4 M 601.9 260.4 L 601.9 265.4 L 608.9 266.9 M 601.9 262.4 L 609.9 263.9" />
<path class="k" d="M 597.9 256.5 L 603.9 257.3 M 588.9 263.7 L 593.9 264.5" />
<ellipse class="f" cx="597.6" cy="261.2" rx="3.2" ry="2.3" style="fill:#333"/>
<ellipse class="f" cx="614.2" cy="263.9" rx="3.0" ry="2.3" style="fill:#333"/>
<ellipse class="w" cx="597.6" cy="261.2" rx="1.2" ry="0.8" style="stroke:none;fill:#999"/>
<ellipse class="w" cx="614.2" cy="263.9" rx="1.2" ry="0.8" style="stroke:none;fill:#999"/>
<path class="t" d="M 590.2 206.8 L 585.2 210.1 L 573.5 221.0 L 556.7 233.6 L 540.0 245.3 L 507.2 263.7 L 493.8 270.0 L 447.0 295.1 C 442.0 298.0 439.0 300.0 435.2 302.6 C 430.0 306.0 427.0 308.5 423.5 311.9 C 420.0 315.5 417.5 318.5 416.0 321.9 C 415.0 324.0 414.5 326.0 414.3 328.6 C 414.0 331.5 415.0 334.5 415.5 337.0 C 415.8 339.5 415.8 341.5 415.2 343.7 C 414.5 346.5 413.5 348.5 412.5 350.2 L 408.7 356.3 L 400.2 362.4 L 376.9 383.5 L 348.4 406.9" />
<path class="t" d="M 603.6 213.5 L 595.2 218.5 L 581.9 230.2 L 561.8 245.3 L 545.0 255.3 L 519.0 270.0 L 462.0 300.1 C 457.0 303.0 454.0 305.0 450.3 307.7 C 445.0 311.5 441.5 315.0 438.6 318.6 C 436.0 322.0 434.5 325.0 433.9 328.6 C 433.5 332.0 434.2 334.5 434.4 337.0 L 434.4 343.7 C 434.0 347.0 432.5 349.5 431.5 351.0 L 425.0 359.5 L 416.5 366.1 L 397.0 385.2 L 366.0 409.4" />
<path class="t" d="M 552.6 238.6 L 568.5 243.6 M 561.8 231.9 L 576.8 235.2 M 447.0 295.1 L 462.0 300.1 M 400.2 362.4 L 416.5 366.1" />
<path class="n" d="M 575.0 195.0 C 573.0 195.5 572.5 198.5 575.0 200.0 L 585.0 201.6 M 575.0 195.0 L 583.2 193.4" />
<path class="n" d="M 624.0 198.5 L 637.0 207.6 M 616.0 209.2 L 629.0 212.0" />
<ellipse class="n" cx="634.0" cy="210.5" rx="5.0" ry="2.7" transform="rotate(-22 634.0 210.5)" />
<path class="n" d="M 585.5 201.6 L 586.0 209.0 L 588.5 209.6 L 589.0 202.6 M 591.5 202.0 L 594.0 204.2" />
<path class="n" d="M 596.5 211.6 L 600.0 207.6 L 604.0 205.0 L 612.0 206.5 L 614.6 209.0 L 614.0 211.2 L 608.0 212.6 L 605.0 214.6 L 599.0 213.6 Z" />
<path class="k" d="M 597.5 205.6 L 609.0 206.6 M 601.0 208.0 L 607.0 207.2 L 610.0 209.5 L 604.0 211.2 Z M 604.0 211.2 L 605.0 214.6 M 600.0 207.6 L 604.0 211.2" />
<path class="n" d="M 614.6 210.0 L 629.0 211.8" />
<path class="c" d="M 560.0 199.0 L 580.0 203.6 M 580.6 199.0 L 580.6 203.6" />
<path class="n" d="M 614.6 224.9 C 614.9 223.5 616.3 222.9 617.9 222.7 L 627.2 221.5 L 633.0 219.3 C 636.4 219.0 639.2 219.8 639.9 222.2 C 639.6 223.9 638.5 224.9 637.2 225.2 L 628.8 226.9 L 623.0 228.2 L 615.4 227.2 Z" />
<path class="n" d="M 617.9 222.7 L 623.0 223.9 L 623.0 228.2 M 623.0 223.9 L 628.8 222.5" />
<ellipse class="n" cx="632.2" cy="222.2" rx="4.4" ry="2.0" transform="rotate(-12 632.2 222.2)" />
<text x="667.6" y="226.4" font-size="8.30" textLength="10.2" lengthAdjust="spacingAndGlyphs">5</text>
<path class="ld" d="M 642.2 223.2 L 664.0 223.2" />
<path class="n" d="M 615.4 233.6 L 621.3 233.2 L 620.1 242.3 L 613.7 242.8 Z M 629.7 230.6 L 635.2 230.2 L 634.2 239.4 L 628.5 239.9 Z" />
<ellipse class="n" cx="616.8" cy="243.5" rx="6.4" ry="1.5" />
<ellipse class="n" cx="631.3" cy="240.4" rx="6.4" ry="1.5" />
<path class="n" d="M 610.4 243.5 C 611.2 245.3 622.1 245.6 623.1 243.5 M 625.0 240.4 C 625.8 242.3 636.7 242.6 637.7 240.4" />
<text x="665.4" y="243.3" font-size="8.30" textLength="10.2" lengthAdjust="spacingAndGlyphs">6</text>
<path class="ld" d="M 640.6 240.3 L 662.0 240.3" />
<text x="641.7" y="256.2" font-size="8.30" textLength="20.4" lengthAdjust="spacingAndGlyphs">14</text>
<path class="ld" d="M 640.9 252.9 L 629.1 252.9 L 618.2 262.0" />
<path class="n" d="M 639.9 270.0 L 663.0 274.3 M 639.1 273.3 L 661.7 278.3 M 639.9 270.0 C 638.4 270.5 637.8 272.5 639.1 273.3" />
<ellipse class="n" cx="662.5" cy="276.3" rx="1.5" ry="2.0" />
<path class="n" d="M 615.2 275.0 L 637.8 278.8 M 614.5 278.3 L 636.6 282.6 M 615.2 275.0 C 613.7 275.5 613.2 277.5 614.5 278.3" />
<ellipse class="n" cx="637.3" cy="280.8" rx="1.5" ry="2.0" />
<path class="l" d="M 666.8 277.3 L 704.5 286.1 M 666.0 279.3 L 703.7 288.1 M 666.8 277.3 L 666.0 279.3" />
<path class="l" d="M 642.9 282.3 L 680.1 291.6 M 642.1 284.3 L 679.3 293.6 M 642.9 282.3 L 642.1 284.3" />
<path class="d" d="M 586.3 266.7 L 615.2 275.5 M 619.0 266.0 L 639.9 270.5" />
<text x="605.0" y="296.8" font-size="8.30" textLength="20.4" lengthAdjust="spacingAndGlyphs">18</text>
<path class="ld" d="M 616.5 288.6 L 624.0 281.8" />
<text x="657.6" y="310.2" font-size="8.30" textLength="20.4" lengthAdjust="spacingAndGlyphs">20</text>
<path class="ld" d="M 669.3 301.9 L 679.3 294.9" />
<path class="n" d="M 680.7 250.4 L 684.2 247.9 L 720.3 249.0 L 730.8 248.6 L 746.0 251.8 L 775.2 259.5 L 773.1 262.6 L 743.7 261.9 L 722.7 259.8 L 713.3 258.4 L 699.3 255.6 L 684.2 252.8 Z" />
<path class="l" d="M 681.1 251.4 L 684.9 249.5 L 720.3 250.9 L 730.8 250.4 L 746.0 253.7 L 774.0 261.2" />
<path class="n" d="M 686.5 250.0 L 692.8 250.4 L 691.9 252.8 L 686.0 251.8 Z M 699.3 251.8 L 706.8 252.8 L 705.9 255.6 L 698.9 254.2 Z M 713.3 255.6 L 722.7 256.5 L 722.7 259.3 M 741.3 257.9 L 743.7 261.6" />
<path class="n" d="M 718.0 251.4 L 741.3 257.9 M 743.7 252.8 L 722.7 257.4 M 729.7 254.2 C 732.0 252.8 735.5 253.7 736.2 256.0 M 726.2 249.5 L 750.7 254.6" />
<path class="n" d="M 770.5 259.3 L 772.1 262.1" />
<path class="ld" d="M 776.3 260.2 L 798.5 260.2" />
<text x="802.0" y="263.1" font-size="8.30" textLength="20.4" lengthAdjust="spacingAndGlyphs">34</text>
<ellipse class="n" cx="705.9" cy="287.8" rx="3.7" ry="2.3" />
<ellipse class="g" cx="705.4" cy="287.8" rx="1.9" ry="1.4" />
<ellipse class="n" cx="681.1" cy="292.3" rx="3.7" ry="2.3" />
<ellipse class="g" cx="680.7" cy="292.3" rx="1.9" ry="1.4" />
<text x="370.5" y="330.2" font-size="8.30" textLength="20.4" lengthAdjust="spacingAndGlyphs">13</text>
<path class="ld" d="M 392.0 327.3 L 413.4 327.3" />
<path class="k" d="M 346.8 394.1 L 387.0 403.2" style="stroke-dasharray:1.6 1.4;stroke-width:1.2;stroke:#555;stroke-linecap:butt"/>
<path class="n" d="M 343.5 405.7 L 365.6 409.7 L 364.9 412.2 L 343.0 408.2 Z" />
<ellipse class="f" cx="362.6" cy="403.2" rx="1.5" ry="1.3" />
<text x="250.5" y="356.2" font-size="8.30" textLength="20.4" lengthAdjust="spacingAndGlyphs">23</text>
<path class="ld" d="M 271.4 352.9 L 296.5 352.9" />
<path class="n" d="M 296.3 353.3 C 296.7 352.0 297.7 351.3 298.3 351.1 L 306.3 347.3 L 318.3 344.4 L 330.3 343.1 L 331.7 341.7 L 339.7 340.9 L 341.0 342.3 L 357.0 341.7 L 365.0 343.3 L 378.3 346.7 C 381.7 347.6 384.3 348.7 384.7 351.1 C 384.3 352.4 383.0 353.2 381.0 353.7 L 370.3 356.7 L 357.0 358.7 L 350.3 359.1 L 349.7 360.1 L 342.3 360.8 L 341.3 359.7 L 338.3 362.0 L 329.0 362.8 L 319.9 362.0 L 317.8 360.0 L 313.0 357.3 L 309.0 356.7 L 298.3 355.6 C 297.0 355.1 296.3 354.3 296.3 353.3 Z" />
<path class="n" d="M 311.7 354.7 C 312.3 352.9 313.7 352.1 315.7 351.3 L 329.0 347.3 L 343.7 344.9 C 349.0 344.7 354.3 344.9 357.0 345.7 C 361.0 346.5 365.0 348.4 365.0 351.1 C 364.3 352.7 363.0 353.5 361.0 354.0 L 350.3 356.7 L 338.3 358.3 L 325.0 358.7 C 319.7 358.5 313.7 357.3 311.7 354.7 Z" />
<path class="n" d="M 317.8 360.0 C 317.7 358.7 318.3 358.0 319.4 357.7 M 330.3 343.1 L 331.7 344.7 L 340.3 344.0 L 341.0 342.3 M 341.3 359.7 L 341.0 357.7 L 350.3 357.2 L 350.3 359.1" />
<path class="n" d="M 336.3 348.7 L 343.7 346.0 M 350.3 350.0 L 354.3 347.1 M 298.3 355.6 L 299.7 354.0 L 307.7 351.3" />
<path class="k" d="M 357.7 346.5 L 371.7 345.7" />
<path class="l" d="M 317.8 360.0 C 325.0 361.5 333.0 360.9 338.3 360.1 L 341.0 359.6 M 319.4 357.7 C 325.0 359.6 335.7 359.6 341.0 357.7" />
<path class="n" d="M 369.0 351.3 C 370.3 350.0 373.7 350.0 374.6 351.6 C 373.7 353.3 370.3 353.7 369.3 352.7 M 371.7 350.0 L 372.3 353.7" />
<ellipse class="n" cx="308.7" cy="349.7" rx="2.9" ry="1.2" transform="rotate(-20 308.7 349.7)" />
<path class="n" d="M 306.3 350.3 L 311.0 348.9" />
<path class="f" d="M 428.3 387.2 C 430.2 388.2 432.4 389.2 432.4 390.8 C 432.4 392.1 430.4 392.6 428.0 392.6 C 425.6 392.6 423.6 392.1 423.6 390.8 C 423.6 389.2 426.4 388.2 428.3 387.2 Z" />
<ellipse class="w" cx="426.4" cy="390.7" rx="1.3" ry="0.9" style="stroke:none"/>
<text x="434.6" y="392.6" font-size="8.30" textLength="20.4" lengthAdjust="spacingAndGlyphs">19</text>
<path class="ld" d="M 424.0 389.8 L 400.8 390.6 L 368.2 403.2" />
<text x="451.6" y="410.5" font-size="8.30" textLength="20.4" lengthAdjust="spacingAndGlyphs">22</text>
<path class="ld" d="M 426.0 407.4 L 449.9 407.4" />
<ellipse class="n" cx="420.5" cy="407.3" rx="4.7" ry="2.3" />
<ellipse class="n" cx="420.5" cy="407.3" rx="2.2" ry="1.0" />
<ellipse class="n" cx="444.0" cy="422.9" rx="4.7" ry="2.2" />
<ellipse class="n" cx="444.0" cy="422.9" rx="2.2" ry="1.0" />
<ellipse class="n" cx="223.3" cy="366.1" rx="4.2" ry="2.2" style="stroke-width:1.1"/>
<ellipse class="l" cx="224.0" cy="365.9" rx="2.0" ry="1.1" />
<path class="l" d="M 227.8 366.7 L 247.8 370.6 L 247.2 371.9 L 227.8 368.1" />
<ellipse class="n" cx="254.4" cy="372.8" rx="3.1" ry="2.0" />
<ellipse class="g" cx="254.4" cy="372.8" rx="1.3" ry="0.9" />
<path class="n" d="M 256.4 371.4 L 273.3 375.0 L 272.8 377.0 L 255.8 374.4" />
<ellipse class="n" cx="220.2" cy="376.3" rx="4.2" ry="2.2" style="stroke-width:1.1"/>
<ellipse class="l" cx="220.9" cy="376.1" rx="2.0" ry="1.1" />
<path class="l" d="M 224.7 377.0 L 245.0 380.8 L 244.4 382.2 L 224.4 378.4" />
<ellipse class="n" cx="251.7" cy="383.7" rx="3.1" ry="2.0" />
<ellipse class="g" cx="251.7" cy="383.7" rx="1.3" ry="0.9" />
<path class="n" d="M 253.7 382.3 L 270.9 385.6 L 270.2 388.0 L 253.1 385.2" />
<path class="d" d="M 273.9 376.1 L 291.7 381.1 L 291.7 390.6 M 271.1 387.2 L 291.1 391.1" />
<text x="230.0" y="403.2" font-size="8.30" textLength="20.4" lengthAdjust="spacingAndGlyphs">18</text>
<path class="ld" d="M 247.8 394.8 L 256.6 386.5" />
<path class="n" d="M 294.2 393.0 C 296.4 390.3 298.9 389.3 302.2 388.9 L 314.0 389.6 L 330.7 393.6 C 334.1 395.0 336.6 396.6 336.6 398.3 C 336.1 400.3 334.9 401.0 333.2 401.3 L 324.0 402.0 L 307.3 398.7 L 296.9 395.6 C 295.2 395.0 294.2 394.0 294.2 393.0 Z" />
<path class="k" d="M 298.0 392.0 C 300.6 389.9 308.9 390.3 317.3 392.3 C 324.9 394.0 329.1 396.1 328.2 398.3 C 325.7 400.7 317.3 400.0 308.9 397.8 C 302.2 396.1 297.2 394.0 298.0 392.0 Z" />
<path class="k" d="M 303.9 392.8 L 320.7 396.6 M 307.3 391.6 L 310.6 395.6 M 317.3 394.0 L 319.8 398.3" />
<ellipse class="f" cx="300.9" cy="392.6" rx="2.0" ry="1.5" />
<ellipse class="f" cx="323.7" cy="398.0" rx="2.0" ry="1.5" />
<text x="284.1" y="416.2" font-size="8.30" textLength="20.4" lengthAdjust="spacingAndGlyphs">14</text>
<path class="ld" d="M 304.3 407.8 L 311.9 401.6" />
<path class="c" d="M 337.0 400.3 L 387.3 410.9" />
<path class="n" d="M 343.3 405.8 L 365.9 410.4 L 367.2 412.4 L 344.6 408.1 Z" />
<path class="t" d="M 99.5 418.4 C 97.0 418.8 96.5 422.2 99.0 422.8 L 329.5 452.9 M 99.5 418.4 L 334.0 448.0" />
<ellipse class="n" cx="332.4" cy="450.6" rx="3.2" ry="2.6" transform="rotate(-10 332.4 450.6)" />
<ellipse class="l" cx="332.4" cy="450.6" rx="1.5" ry="1.2" transform="rotate(-10 332.4 450.6)" />
<path class="n" d="M 137.5 424.6 L 141.0 425.2 L 139.5 427.8 L 143.0 428.4" />
<text x="184.5" y="453.5" font-size="8.30" textLength="20.4" lengthAdjust="spacingAndGlyphs">26</text>
<path class="ld" d="M 201.1 444.3 L 208.7 437.0" />
<text x="188.7" y="395.2" font-size="8.30" textLength="20.4" lengthAdjust="spacingAndGlyphs">21</text>
<path class="ld" d="M 207.4 387.7 L 218.2 377.7" />
<text x="113.6" y="368.4" font-size="8.30" textLength="20.4" lengthAdjust="spacingAndGlyphs">32</text>
<path class="ld" d="M 86.7 363.1 L 111.9 365.1" />
<ellipse class="n" cx="79.2" cy="361.1" rx="6.8" ry="1.5" transform="rotate(3 79.2 361.1)" />
<path class="n" d="M 72.4 361.4 L 72.7 362.9 C 75.4 364.4 83.0 364.6 86.0 363.4 L 86.0 361.9 M 74.4 363.6 L 67.4 377.7 L 75.4 378.4 L 82.0 364.4" />
<path class="c" d="M 70.4 379.2 L 51.5 412.9" />
<text x="5.3" y="392.2" font-size="8.30" textLength="20.4" lengthAdjust="spacingAndGlyphs">31</text>
<path class="ld" d="M 30.2 389.0 L 57.8 389.5 M 30.2 389.0 L 54.3 394.5" />
<ellipse class="k" cx="64.9" cy="389.5" rx="7.0" ry="1.5" transform="rotate(3 64.9 389.5)" style="stroke-width:1.2"/>
<ellipse class="n" cx="64.9" cy="389.5" rx="2.5" ry="0.5" transform="rotate(3 64.9 389.5)" />
<ellipse class="k" cx="61.6" cy="394.8" rx="7.0" ry="1.5" transform="rotate(3 61.6 394.8)" style="stroke-width:1.2"/>
<ellipse class="n" cx="61.6" cy="394.8" rx="2.5" ry="0.5" transform="rotate(3 61.6 394.8)" />
<ellipse class="n" cx="51.0" cy="413.6" rx="7.8" ry="3.5" transform="rotate(5 51.0 413.6)" />
<ellipse class="k" cx="51.0" cy="413.4" rx="5.0" ry="2.0" transform="rotate(5 51.0 413.4)" />
<path class="n" d="M 43.2 413.9 L 43.7 415.9 C 46.5 418.9 55.8 418.9 58.8 416.4" />
<path class="n" d="M 58.3 412.1 L 79.9 415.9 C 81.5 416.4 81.5 418.4 79.9 418.9 L 59.1 416.1" />
<text x="64.0" y="436.3" font-size="8.30" textLength="20.4" lengthAdjust="spacingAndGlyphs">27</text>
<path class="ld" d="M 74.2 420.4 L 74.2 427.9" />
<text x="1.7" y="425.3" font-size="8.30" textLength="20.4" lengthAdjust="spacingAndGlyphs">33</text>
<path class="ld" d="M 22.6 422.4 L 39.7 424.9" />
<ellipse class="n" cx="46.0" cy="425.2" rx="6.5" ry="2.0" />
<path class="n" d="M 39.5 425.4 L 39.7 426.9 C 42.7 429.2 49.8 429.2 52.3 426.9 L 52.5 425.4" />
<text x="95.1" y="405.7" font-size="8.30" textLength="20.4" lengthAdjust="spacingAndGlyphs">30</text>
<path class="ld" d="M 100.6 407.8 L 92.0 416.4" />
<ellipse class="g" cx="88.7" cy="418.4" rx="4.5" ry="2.8" style="fill:#555"/>
<ellipse class="w" cx="88.7" cy="418.4" rx="1.8" ry="1.1" style="fill:#bbb;stroke:none"/>
<path class="n" d="M 387.0 412.0 C 387.8 410.3 389.5 409.3 391.2 409.0 L 400.4 408.3 L 420.5 412.8 C 424.7 414.0 428.9 415.7 429.7 418.3 C 428.9 420.0 427.2 420.5 425.5 420.7 L 417.2 421.2 L 397.0 417.0 L 389.0 414.7 C 387.8 414.0 387.0 413.0 387.0 412.0 Z" />
<path class="l" d="M 397.0 409.0 L 396.7 416.7 M 400.4 410.6 L 420.5 415.0 M 399.6 414.5 L 417.2 418.7 M 420.5 412.8 L 421.3 420.4" />
<path class="k" d="M 402.1 409.0 L 408.8 410.0 M 390.3 415.0 L 397.0 416.7" />
<ellipse class="f" cx="393.4" cy="411.6" rx="3.4" ry="2.3" style="fill:#333"/>
<ellipse class="f" cx="414.6" cy="417.0" rx="3.4" ry="2.3" style="fill:#333"/>
<ellipse class="w" cx="393.4" cy="411.6" rx="1.3" ry="0.8" style="fill:#999;stroke:none"/>
<ellipse class="w" cx="414.6" cy="417.0" rx="1.3" ry="0.8" style="fill:#999;stroke:none"/>
<path class="l" d="M 406.3 403.9 L 406.3 412.0" />
<text x="374.4" y="434.6" font-size="8.30" textLength="20.4" lengthAdjust="spacingAndGlyphs">14</text>
<path class="ld" d="M 394.1 426.5 L 401.6 419.2" />
<path class="ld" d="M 455.6 412.7 L 446.6 421.3" />
<path class="c" d="M 429.2 420.3 L 439.6 422.5" />
<text x="353.7" y="439.9" font-size="8.30" textLength="20.4" lengthAdjust="spacingAndGlyphs">28</text>
<path class="ld" d="M 358.9 442.1 L 350.6 450.9" />
<ellipse class="g" cx="346.8" cy="452.9" rx="4.3" ry="2.5" style="fill:#555"/>
<ellipse class="w" cx="346.8" cy="452.9" rx="1.7" ry="1.0" style="fill:#bbb;stroke:none"/>
<path class="n" d="M 356.0 453.5 C 354.3 453.8 354.3 455.8 355.6 456.2 L 371.1 458.2 M 356.0 453.5 L 371.9 455.5" />
<path class="n" d="M 371.9 455.5 L 375.3 454.3 L 387.8 454.8 L 392.8 457.2 L 393.4 459.5 L 389.5 461.2 L 380.3 461.9 L 373.9 459.5 Z" />
<path class="n" d="M 377.8 454.8 L 380.3 461.5 M 383.6 454.8 L 386.3 460.9" />
<text x="336.3" y="473.6" font-size="8.30" textLength="20.4" lengthAdjust="spacingAndGlyphs">29</text>
<path class="ld" d="M 350.8 465.1 L 360.9 457.1" />
<path class="l" d="M 368.2 464.6 L 371.9 463.2 L 379.6 464.4 L 379.9 466.9 L 376.1 468.6 L 368.9 467.1 Z M 368.2 464.6 L 374.9 465.9 L 379.6 464.4 M 374.9 465.9 L 376.1 468.6" />
<text x="372.7" y="492.3" font-size="8.30" textLength="20.4" lengthAdjust="spacingAndGlyphs">25</text>
<path class="ld" d="M 379.0 469.2 L 386.5 481.8 L 415.4 478.0" />
<path class="l" d="M 416.3 476.3 L 420.5 474.9 L 428.2 476.1 L 428.5 478.6 L 424.7 480.0 L 417.2 478.6 Z M 416.3 476.3 L 423.2 477.6 L 428.2 476.1 M 423.2 477.6 L 424.7 480.0" />
<path class="n" d="M 422.2 467.9 L 426.4 465.6 L 437.3 466.6 L 439.9 468.9 L 438.9 471.3 L 433.9 472.4 L 425.5 471.3 Z" />
<path class="n" d="M 428.9 465.9 L 430.6 471.9 M 434.2 466.6 L 435.9 471.9" />
<path class="n" d="M 439.3 470.9 L 454.4 477.0 C 455.7 477.6 455.4 479.3 454.0 479.3 L 437.3 472.9" />
<text x="424.7" y="494.8" font-size="8.30" textLength="20.4" lengthAdjust="spacingAndGlyphs">29</text>
<path class="ld" d="M 439.3 486.1 L 448.1 478.0" />
<ellipse class="g" cx="461.9" cy="480.6" rx="4.3" ry="2.5" style="fill:#555"/>
<ellipse class="w" cx="461.9" cy="480.6" rx="1.7" ry="1.0" style="fill:#bbb;stroke:none"/>
<text x="469.3" y="468.4" font-size="8.30" textLength="20.4" lengthAdjust="spacingAndGlyphs">28</text>
<path class="ld" d="M 474.5 470.5 L 465.2 478.5" />
<path class="c" d="M 389.5 454.0 L 412.0 435.1 L 497.3 450.0 L 508.3 440.3 M 437.5 466.5 L 458.9 446.8 L 510.3 456.4 L 527.4 444.4" />
<text x="589.9" y="418.9" font-size="8.30" textLength="20.4" lengthAdjust="spacingAndGlyphs">24</text>
<path class="ld" d="M 566.6 416.2 L 587.8 416.2" />
<ellipse class="n" cx="545.5" cy="411.8" rx="5.6" ry="1.6" transform="rotate(8 545.5 411.8)" />
<path class="n" d="M 542.1 413.4 L 529.6 421.8 C 528.8 423.0 530.0 424.2 531.7 423.8 L 535.7 423.8 L 548.9 413.8" />
<ellipse class="k" cx="545.5" cy="411.8" rx="1.6" ry="0.6" transform="rotate(8 545.5 411.8)" />
<ellipse class="n" cx="559.6" cy="415.2" rx="6.0" ry="1.6" transform="rotate(8 559.6 415.2)" />
<path class="n" d="M 555.8 416.8 L 543.7 425.8 L 548.9 427.4 L 563.0 417.4" />
<ellipse class="k" cx="559.6" cy="415.2" rx="1.6" ry="0.6" transform="rotate(8 559.6 415.2)" />
<path class="n" d="M 491.8 427.8 L 503.9 417.2 L 510.3 427.4 L 507.5 431.5 L 493.4 429.4 Z" />
<path class="n" d="M 493.8 427.8 L 503.7 419.4 L 508.7 427.6 Z" />
<path class="n" d="M 498.3 426.4 L 503.3 421.2 L 506.7 427.4 Z" />
<path class="n" d="M 508.7 431.9 L 519.4 421.8 L 534.5 434.3 L 538.5 437.5 L 510.3 432.7 Z" />
<path class="n" d="M 511.1 431.9 L 519.6 424.2 L 531.3 433.9 Z" />
<path class="n" d="M 515.4 431.5 L 520.4 426.2 L 528.0 432.3 Z" />
<ellipse class="n" cx="519.8" cy="429.4" rx="2.4" ry="1.8" />
<path class="n" d="M 507.5 431.5 L 544.5 438.3 L 547.7 439.3 L 546.5 440.7 L 536.5 438.9" />
<path class="k" d="M 504.7 439.3 L 529.6 444.3" />
<path class="n" d="M 516.4 437.5 L 532.5 438.7 L 529.4 443.5 L 521.6 442.3 M 519.4 437.9 L 518.4 441.5 M 526.0 438.3 L 524.8 442.7" />
<path class="t" d="M 467.8 482.6 C 466.4 483.6 466.6 485.4 468.0 486.2 L 670.0 566.8 M 467.8 482.6 L 473.5 481.0 L 679.0 563.5" />
<ellipse class="n" cx="674.5" cy="565.2" rx="3.4" ry="2.3" transform="rotate(-20 674.5 565.2)" />
<path class="n" d="M 633.4 550.0 L 638.5 548.2 L 640.0 550.0 L 634.9 552.1 Z" />
<text x="539.0" y="542.0" font-size="8.30" textLength="20.4" lengthAdjust="spacingAndGlyphs">26</text>
<path class="ld" d="M 563.5 525.4 L 555.4 533.5" />
<text x="692.5" y="556.7" font-size="8.30" textLength="20.4" lengthAdjust="spacingAndGlyphs">30</text>
<path class="ld" d="M 696.8 559.6 L 687.5 567.6" />
<ellipse class="g" cx="684.2" cy="569.6" rx="4.3" ry="2.5" style="fill:#555"/>
<ellipse class="w" cx="684.2" cy="569.6" rx="1.7" ry="1.0" style="fill:#bbb;stroke:none"/>
<text x="656.2" y="589.4" font-size="8.30" textLength="20.4" lengthAdjust="spacingAndGlyphs">27</text>
<path class="ld" d="M 680.4 582.2 L 691.0 576.4" />
<path class="n" d="M 690.5 571.6 C 688.5 572.1 688.5 574.6 690.0 575.1 L 706.8 580.2 M 690.5 571.6 L 708.6 576.6" />
<ellipse class="n" cx="714.4" cy="581.4" rx="9.6" ry="4.3" transform="rotate(10 714.4 581.4)" />
<ellipse class="k" cx="714.9" cy="580.7" rx="6.0" ry="2.5" transform="rotate(10 714.9 580.7)" />
<ellipse class="g" cx="715.1" cy="580.4" rx="2.5" ry="1.3" transform="rotate(10 715.1 580.4)" />
<ellipse class="n" cx="707.6" cy="590.5" rx="7.0" ry="2.5" />
<ellipse class="n" cx="707.6" cy="590.2" rx="3.0" ry="1.3" />
<path class="n" d="M 700.6 590.7 L 700.8 592.2 C 703.6 594.5 711.9 594.5 714.4 592.2 L 714.6 590.7 M 703.1 589.2 L 711.9 591.7" />
<text x="738.8" y="593.9" font-size="8.30" textLength="20.4" lengthAdjust="spacingAndGlyphs">33</text>
<path class="ld" d="M 715.6 591.5 L 737.0 591.5" />
<ellipse class="n" cx="737.0" cy="555.5" rx="6.8" ry="2.0" transform="rotate(5 737.0 555.5)" />
<ellipse class="n" cx="737.0" cy="555.5" rx="3.0" ry="0.8" transform="rotate(5 737.0 555.5)" />
<ellipse class="n" cx="732.0" cy="561.3" rx="6.8" ry="2.0" transform="rotate(5 732.0 561.3)" />
<ellipse class="n" cx="732.0" cy="561.3" rx="3.0" ry="0.8" transform="rotate(5 732.0 561.3)" />
<text x="768.7" y="568.8" font-size="8.30" textLength="20.4" lengthAdjust="spacingAndGlyphs">31</text>
<path class="ld" d="M 767.2 564.6 L 744.6 556.8 M 767.2 564.6 L 739.5 562.1" />
<ellipse class="n" cx="754.9" cy="535.4" rx="6.3" ry="1.5" transform="rotate(6 754.9 535.4)" />
<path class="n" d="M 748.6 535.2 L 748.8 536.7 C 750.8 538.5 758.4 539.0 761.1 537.5 L 761.1 535.9 M 750.3 537.7 L 738.3 550.5 L 745.8 552.5 L 757.9 538.7" />
<text x="788.0" y="546.7" font-size="8.30" textLength="20.4" lengthAdjust="spacingAndGlyphs">32</text>
<path class="ld" d="M 762.2 538.0 L 786.0 541.2" />
<path class="c" d="M 737.0 552.5 L 719.4 580.2" />
<text x="5.1" y="594.9" font-size="8.30" textLength="71.4" lengthAdjust="spacingAndGlyphs">23L0917</text>
</g>
</svg></body></html>
